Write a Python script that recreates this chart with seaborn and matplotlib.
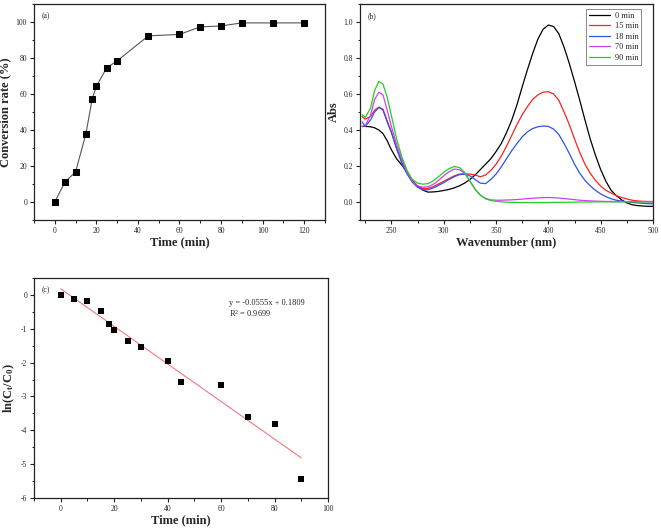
import numpy as np
import pandas as pd
import matplotlib
matplotlib.use("Agg")
import matplotlib.pyplot as plt
from matplotlib.ticker import MultipleLocator
import seaborn as sns

# ---------------- data ----------------
# (a) conversion rate
time_a = [0, 5, 10, 15, 18, 20, 25, 30, 45, 60, 70, 80, 90, 105, 120]
conv_a = [0, 11.3, 16.7, 38.0, 57.3, 64.3, 74.6, 78.4, 92.3, 93.1, 97.3, 97.8, 99.5, 99.5, 99.5]

# (b) UV-vis spectra
wl = [222, 225, 230, 234, 238, 242, 246, 250, 255, 260, 265, 270, 275, 280, 285, 290,
      295, 300, 305, 310, 315, 320, 325, 330, 335, 340, 345, 350, 355, 360, 365, 370,
      375, 380, 385, 390, 395, 400, 405, 410, 415, 420, 425, 430, 435, 440, 445, 450,
      455, 460, 465, 470, 475, 480, 485, 490, 495, 500]
abs_0 = [0.420, 0.420, 0.418, 0.412, 0.400, 0.380, 0.340, 0.290, 0.240, 0.205, 0.165, 0.120,
         0.088, 0.066, 0.055, 0.056, 0.059, 0.064, 0.070, 0.078, 0.090, 0.105, 0.125, 0.150,
         0.180, 0.210, 0.240, 0.280, 0.325, 0.385, 0.455, 0.540, 0.640, 0.735, 0.825, 0.905,
         0.960, 0.983, 0.975, 0.935, 0.860, 0.770, 0.670, 0.565, 0.455, 0.350, 0.260, 0.180,
         0.115, 0.065, 0.035, 0.012, -0.005, -0.015, -0.020, -0.022, -0.024, -0.024]
abs_15 = [0.475, 0.460, 0.475, 0.510, 0.527, 0.515, 0.450, 0.390, 0.300, 0.220, 0.160, 0.115,
          0.088, 0.076, 0.076, 0.085, 0.100, 0.115, 0.130, 0.145, 0.155, 0.157, 0.155, 0.150,
          0.140, 0.150, 0.175, 0.210, 0.255, 0.310, 0.370, 0.430, 0.485, 0.530, 0.570, 0.595,
          0.610, 0.613, 0.600, 0.565, 0.500, 0.430, 0.350, 0.275, 0.210, 0.160, 0.120, 0.088,
          0.065, 0.050, 0.035, 0.025, 0.017, 0.010, 0.006, 0.004, 0.003, 0.003]
abs_18 = [0.445, 0.420, 0.455, 0.500, 0.525, 0.510, 0.445, 0.385, 0.295, 0.215, 0.155, 0.110,
          0.082, 0.068, 0.068, 0.078, 0.092, 0.108, 0.125, 0.140, 0.152, 0.155, 0.145, 0.125,
          0.105, 0.102, 0.125, 0.155, 0.195, 0.240, 0.285, 0.325, 0.362, 0.390, 0.408, 0.418,
          0.422, 0.420, 0.405, 0.375, 0.325, 0.270, 0.210, 0.160, 0.120, 0.090, 0.065, 0.045,
          0.030, 0.018, 0.010, 0.005, 0.001, -0.002, -0.005, -0.007, -0.009, -0.010]
abs_70 = [0.420, 0.425, 0.480, 0.570, 0.610, 0.595, 0.510, 0.420, 0.320, 0.235, 0.165, 0.115,
          0.090, 0.082, 0.085, 0.098, 0.120, 0.145, 0.168, 0.183, 0.180, 0.160, 0.115, 0.070,
          0.038, 0.020, 0.012, 0.010, 0.010, 0.011, 0.012, 0.014, 0.016, 0.019, 0.021, 0.023,
          0.024, 0.025, 0.024, 0.022, 0.019, 0.016, 0.013, 0.010, 0.008, 0.006, 0.005, 0.004,
          0.003, 0.003, 0.002, 0.002, 0.002, 0.002, 0.001, 0.001, 0.001, 0.001]
abs_90 = [0.485, 0.470, 0.520, 0.620, 0.670, 0.655, 0.580, 0.480, 0.350, 0.250, 0.175, 0.125,
          0.105, 0.099, 0.102, 0.118, 0.140, 0.165, 0.185, 0.197, 0.192, 0.165, 0.118, 0.072,
          0.038, 0.018, 0.008, 0.004, 0.001, -0.001, -0.002, -0.002, -0.003, -0.003, -0.003, -0.003,
          -0.003, -0.003, -0.002, -0.002, -0.002, -0.001, -0.001, 0.000, 0.000, 0.000, 0.001, 0.001,
          0.001, 0.001, 0.001, 0.001, 0.001, 0.001, 0.001, 0.001, 0.001, 0.001]
series_labels = ["0 min", "15 min", "18 min", "70 min", "90 min"]
series_colors = ["#000000", "#ff2020", "#3050f0", "#d040f0", "#20d020"]

# (c) kinetics
time_c = [0, 5, 10, 15, 18, 20, 25, 30, 40, 45, 60, 70, 80, 90]
lnc_c = [0.0, -0.12, -0.19, -0.48, -0.85, -1.04, -1.37, -1.54, -1.96, -2.56, -2.67, -3.61, -3.81, -5.43]
fit_slope = -0.0555
fit_intercept = 0.1809
fit_r2 = 0.9699
fit_x = [0, 90]

# ---------------- style ----------------
sns.set_theme(style="ticks")
plt.rcParams["font.family"] = ["Liberation Serif", "DejaVu Serif"]
plt.rcParams["mathtext.fontset"] = "custom"
plt.rcParams["mathtext.rm"] = "Liberation Serif"
plt.rcParams["mathtext.it"] = "Liberation Serif:italic"
plt.rcParams["mathtext.bf"] = "Liberation Serif:bold"
plt.rcParams["axes.unicode_minus"] = False

W, H = 661, 529
fig = plt.figure(figsize=(W / 100, H / 100), dpi=100)

def box(l, t, r, b):
    return [l / W, 1 - b / H, (r - l) / W, (b - t) / H]

ax_a = fig.add_axes(box(34, 4, 325, 220))
ax_b = fig.add_axes(box(360, 4, 653, 220))
ax_c = fig.add_axes(box(34, 278, 328, 498))

tick_fs = 5.5
label_fs = 9

def style_ax(ax):
    for s in ax.spines.values():
        s.set_linewidth(0.9)
        s.set_color("#222222")
    ax.tick_params(which="major", direction="out", length=3, width=0.8,
                   labelsize=tick_fs, pad=2, top=False, right=False, color="#222222")
    ax.tick_params(which="minor", direction="out", length=1.8, width=0.7,
                   top=False, right=False, color="#222222")

# ---------------- (a) ----------------
df_a = pd.DataFrame({"t": time_a, "c": conv_a})
sns.lineplot(data=df_a, x="t", y="c", ax=ax_a, color="#555555", linewidth=0.8,
             marker="s", markersize=4.5, markerfacecolor="black", markeredgecolor="black")
ax_a.set_xticks([0, 20, 40, 60, 80, 100, 120])
ax_a.xaxis.set_minor_locator(MultipleLocator(10))
ax_a.set_yticks([0, 20, 40, 60, 80, 100])
ax_a.yaxis.set_minor_locator(MultipleLocator(10))
ax_a.set_xlim(-10, 130)
ax_a.set_ylim(-10, 110)
ax_a.set_xlabel("Time (min)", fontsize=label_fs, fontweight="bold", labelpad=1)
ax_a.set_ylabel("Conversion rate (%)", fontsize=label_fs, fontweight="bold", labelpad=3)
ax_a.text(0.025, 0.96, "(a)", transform=ax_a.transAxes, fontsize=tick_fs, va="top", ha="left")
style_ax(ax_a)

# ---------------- (b) ----------------
rows = []
for lab, arr in zip(series_labels, [abs_0, abs_15, abs_18, abs_70, abs_90]):
    for w, a in zip(wl, arr):
        rows.append({"wl": w, "abs": a, "s": lab})
df_b = pd.DataFrame(rows)
sns.lineplot(data=df_b, x="wl", y="abs", hue="s", hue_order=series_labels,
             palette=dict(zip(series_labels, series_colors)), ax=ax_b, linewidth=0.9,
             sort=True, estimator=None)
ax_b.set_xticks([250, 300, 350, 400, 450, 500])
ax_b.xaxis.set_minor_locator(MultipleLocator(25))
ax_b.set_yticks([0.0, 0.2, 0.4, 0.6, 0.8, 1.0])
ax_b.yaxis.set_minor_locator(MultipleLocator(0.1))
ax_b.set_xlim(220, 500)
ax_b.set_ylim(-0.1, 1.1)
ax_b.yaxis.set_major_formatter(matplotlib.ticker.FormatStrFormatter("%.1f"))
ax_b.set_xlabel("Wavenumber (nm)", fontsize=label_fs, fontweight="bold", labelpad=1)
ax_b.set_ylabel("Abs", fontsize=label_fs, fontweight="bold", labelpad=3)
ax_b.text(0.025, 0.96, "(b)", transform=ax_b.transAxes, fontsize=tick_fs, va="top", ha="left")
leg = ax_b.legend(loc="upper right", bbox_to_anchor=(0.96, 0.977), borderaxespad=0,
                  fontsize=6.0, frameon=True, fancybox=False, framealpha=1,
                  edgecolor="#777777", handlelength=2.6, handletextpad=0.5,
                  labelspacing=0.3, borderpad=0.35, title=None)
leg.get_frame().set_linewidth(0.6)
style_ax(ax_b)

# ---------------- (c) ----------------
df_c = pd.DataFrame({"t": time_c, "l": lnc_c})
fit_y = [fit_slope * x + fit_intercept for x in fit_x]
sns.lineplot(x=fit_x, y=fit_y, ax=ax_c, color="#f07a80", linewidth=0.8)
sns.scatterplot(data=df_c, x="t", y="l", ax=ax_c, marker="s", s=16, color="black",
                edgecolor="black", linewidth=0, zorder=3)
ax_c.set_xticks([0, 20, 40, 60, 80, 100])
ax_c.xaxis.set_minor_locator(MultipleLocator(10))
ax_c.set_yticks([-6, -5, -4, -3, -2, -1, 0])
ax_c.yaxis.set_minor_locator(MultipleLocator(0.5))
ax_c.set_xlim(-10, 100)
ax_c.set_ylim(-6, 0.5)
ax_c.set_xlabel("Time (min)", fontsize=label_fs, fontweight="bold", labelpad=1)
ax_c.set_ylabel(r"ln(C$_\mathbf{t}$/C$_\mathbf{0}$)", fontsize=label_fs, fontweight="bold", labelpad=3)
ax_c.text(0.025, 0.965, "(c)", transform=ax_c.transAxes, fontsize=tick_fs, va="top", ha="left")
ax_c.text(63, -0.25, f"y = {fit_slope}x + {fit_intercept}", fontsize=6, va="center", ha="left")
ax_c.text(63, -0.54, f"R$^2$ = {fit_r2}", fontsize=6, va="center", ha="left")
style_ax(ax_c)

fig.savefig("out.png", dpi=100)
